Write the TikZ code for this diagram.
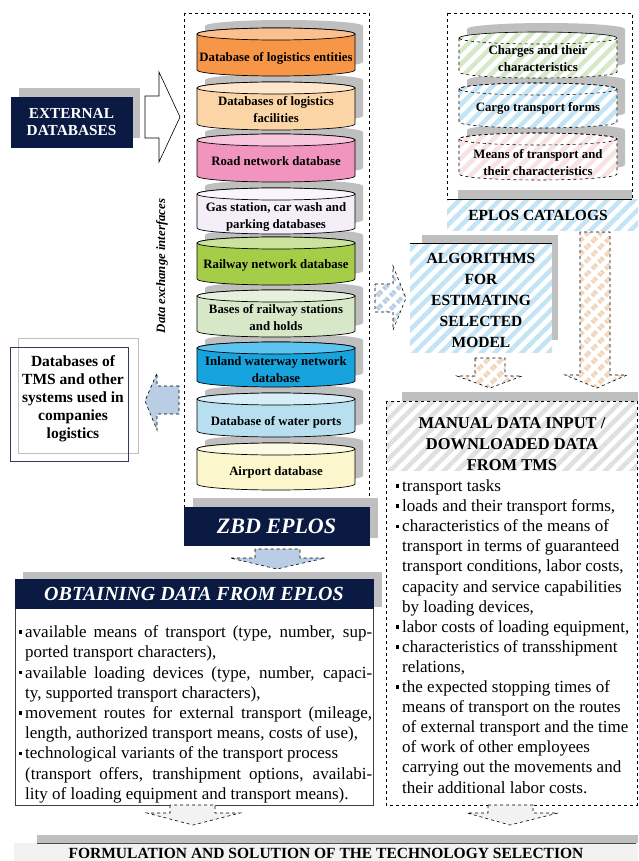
\documentclass[tikz,border=0pt]{standalone}
\usepackage{fontspec}
\setmainfont{Liberation Serif}
\usetikzlibrary{patterns.meta}
\definecolor{navy}{HTML}{0B1A42}
\definecolor{shadowgray}{HTML}{BFBFBF}
\definecolor{hblue}{HTML}{C3E4F5}
\definecolor{hgreen}{HTML}{D5E8C8}
\definecolor{hpink}{HTML}{F8E2E2}
\definecolor{htan}{HTML}{F1D5BD}
\definecolor{hgray}{HTML}{E0E0E0}
\definecolor{arrblue}{HTML}{B9CDE5}
\definecolor{lightbox}{HTML}{F2F2F2}
\definecolor{cAb}{HTML}{F79646}\definecolor{cAt}{HTML}{FAC08F}
\definecolor{cBb}{HTML}{FBD5A6}\definecolor{cBt}{HTML}{FDE6CC}
\definecolor{cCb}{HTML}{F295BE}\definecolor{cCt}{HTML}{F8C6DC}
\definecolor{cDb}{HTML}{F3EEF7}\definecolor{cDt}{HTML}{F9F6FB}
\definecolor{cEb}{HTML}{A6CD48}\definecolor{cEt}{HTML}{CBE39C}
\definecolor{cFb}{HTML}{D7E8C8}\definecolor{cFt}{HTML}{E6F1DD}
\definecolor{cGb}{HTML}{17A3DD}\definecolor{cGt}{HTML}{5CC4EE}
\definecolor{cHb}{HTML}{B7DFF0}\definecolor{cHt}{HTML}{D7EEF8}
\definecolor{cIb}{HTML}{FBF6CC}\definecolor{cIt}{HTML}{FDFAE3}
\newcommand\cylbody[5]{\path[#5] (#1,#3+6) -- (#1,#4-6) arc[start angle=180,end angle=0,x radius={(#2-#1)/2},y radius=6] -- (#2,#3+6) arc[start angle=0,end angle=-180,x radius={(#2-#1)/2},y radius=6] -- cycle;}
\newcommand\cyltop[5]{\path[#5] ({(#1+#2)/2},#3+6) ellipse[x radius={(#2-#1)/2},y radius=6];}
\newcommand\bul{\llap{\raisebox{3.6pt}{\rule{3.6pt}{3.6pt}}\hspace{3pt}}}
\tikzset{
  navybox/.style={fill=navy, draw=navy, text=white, inner sep=0pt, align=center},
  cyltext/.style={font=\fontsize{12.8}{16.5}\selectfont\bfseries, align=center, inner sep=0pt},
  hatch/.style={pattern={Lines[angle=45,distance=9.5pt,line width=4.5pt]}, pattern color=#1},
  blockarrow/.style={draw=black, dashed, line width=0.6pt},
  framebox/.style={draw=black, dashed, line width=0.6pt},
  headtext/.style={font=\fontsize{15.5}{21}\selectfont\bfseries, align=center, inner sep=0pt},
  listtext/.style={align=left, inner sep=0pt, anchor=north west}
}
\begin{document}
\begin{tikzpicture}[x=1pt,y=-1pt]
\useasboundingbox (0,0) rectangle (638,861);

% ---------- external databases
\fill[shadowgray] (19,88) rectangle (140,138);
\node[navybox, minimum width=121, minimum height=50, font=\fontsize{15.3}{17}\selectfont\bfseries] (ext) at (71.5,122) {EXTERNAL\\DATABASES};
\draw[line width=0.6pt, fill=white] (145,96) -- (159,96) -- (159,72) -- (180,117) -- (159,162) -- (159,138) -- (145,138) -- cycle;

% ---------- main frame with database cylinders
\draw[framebox] (184,13) rectangle (369,507);
\begin{scope}[shift={(8,-8)}]
\foreach \yt/\yb in {28/76,82/130,134/182,188/234,237/285,290/337,342/387,393/437,443/490}
  {\cylbody{197}{355}{\yt}{\yb}{fill=shadowgray}}
\end{scope}
\foreach \yt/\yb/\cb/\ct in {28/76/cAb/cAt,82/130/cBb/cBt,134/182/cCb/cCt,188/234/cDb/cDt,237/285/cEb/cEt,290/337/cFb/cFt,342/387/cGb/cGt,393/437/cHb/cHt,443/490/cIb/cIt}
  {\cylbody{197}{355}{\yt}{\yb}{fill=\cb,draw=black,line width=0.7pt}
   \cyltop{197}{355}{\yt}{\yb}{fill=\ct,draw=black,line width=0.7pt}}
\node[cyltext] (db1) at (276,58) {Database of logistics entities};
\node[cyltext] (db2) at (276,109.5) {Databases of logistics\\facilities};
\node[cyltext] (db3) at (276,161) {Road network database};
\node[cyltext] (db4) at (276,217) {Gas station, car wash and\\parking databases};
\node[cyltext] (db5) at (276,265) {Railway network database};
\node[cyltext] (db6) at (276,317.5) {Bases of railway stations\\and holds};
\node[cyltext] (db7) at (276,369.5) {Inland waterway network\\database};
\node[cyltext] (db8) at (276,422) {Database of water ports};
\node[cyltext] (db9) at (276,472) {Airport database};
\node[rotate=90, font=\fontsize{12.8}{15}\selectfont\bfseries\itshape, inner sep=0pt] (dei) at (162,266) {Data exchange interfaces};

% ---------- ZBD EPLOS
\fill[shadowgray] (193,498) rectangle (378,538);
\node[navybox, minimum width=185, minimum height=38, font=\fontsize{22}{26}\selectfont\bfseries\itshape] (zbd) at (276.5,526) {ZBD EPLOS};
\draw[blockarrow, fill=arrblue] (255,549) -- (255,558) -- (230,558) -- (277,569) -- (325,558) -- (300,558) -- (300,549) -- cycle;

% ---------- obtaining data
\fill[shadowgray] (23,572) rectangle (382,607);
\draw[fill=white, draw=black!75, line width=0.8pt] (15,608) rectangle (373,805);
\node[navybox, minimum width=358, minimum height=29, font=\fontsize{20}{24}\selectfont\bfseries\itshape] (obt) at (194,593.5) {OBTAINING DATA FROM EPLOS};
\node[listtext, font=\fontsize{17}{20.2}\selectfont] (obtl) at (25,625.5) {%
\bul\makebox[347pt][s]{available means of transport (type, number, sup-}\\
ported transport characters),\\
\bul\makebox[347pt][s]{available loading devices (type, number, capaci-}\\
ty, supported transport characters),\\
\bul\makebox[347pt][s]{movement routes for external transport (mileage,}\\
length, authorized transport means, costs of use),\\
\bul technological variants of the transport process\\
\makebox[347pt][s]{(transport offers, transhipment options, availabi-}\\
lity of loading equipment and transport means).};
\draw[blockarrow, fill=lightbox] (170,805) -- (170,813) -- (147,813) -- (193,825) -- (240,813) -- (215,813) -- (215,805) -- cycle;

% ---------- formulation
\fill[shadowgray] (37,835) rectangle (638,843);
\fill[lightbox] (14,843) rectangle (638,861);
\draw[black!70, line width=0.6pt] (37,843) -- (636,843);
\node[font=\fontsize{15.5}{18}\selectfont\bfseries, inner sep=0pt] (form) at (326,853) {FORMULATION AND SOLUTION OF THE TECHNOLOGY SELECTION};

% ---------- TMS databases
\draw[blockarrow, fill=arrblue] (179,386) -- (157,386) -- (157,373) -- (145,401) -- (157,430) -- (157,414) -- (179,414) -- cycle;
\draw[shadowgray, line width=0.8pt] (18,338) rectangle (138,453);
\draw[navy!85, line width=0.9pt] (10,347) rectangle (128,461);
\node[font=\fontsize{15.5}{18}\selectfont\bfseries, align=center, inner sep=0pt] (tms) at (73,399) {Databases of\\TMS and other\\systems used in\\companies\\logistics};

% ---------- EPLOS catalogs
\draw[framebox] (447,13) rectangle (632,199);
\begin{scope}[shift={(8,-9)}]
\foreach \yt/\yb in {32/78,83/128,133/180} {\cylbody{459}{617}{\yt}{\yb}{fill=shadowgray}}
\end{scope}
\fill[shadowgray] (458,190) rectangle (632,199);
\foreach \yt/\yb/\hc in {32/78/hgreen,83/128/hblue,133/180/hpink}
  {\cylbody{459}{617}{\yt}{\yb}{fill=white}
   \cylbody{459}{617}{\yt}{\yb}{hatch=\hc}
   \cylbody{459}{617}{\yt}{\yb}{draw=black,dashed,line width=0.6pt}
   \cyltop{459}{617}{\yt}{\yb}{draw=black,dashed,line width=0.6pt}}
\node[cyltext] (cat1) at (538,58.5) {Charges and their\\characteristics};
\node[cyltext] (cat2) at (538,108) {Cargo transport forms};
\node[cyltext] (cat3) at (538,162.5) {Means of transport and\\their characteristics};
\path[hatch=hblue] (447,199) rectangle (638,230);
\draw[line width=0.7pt] (447,199) -- (632,199);
\node[headtext] (catl) at (538,215) {EPLOS CATALOGS};

% ---------- algorithms
\draw[blockarrow, hatch=arrblue] (375,284) -- (393,284) -- (393,266) -- (406,298) -- (393,330) -- (393,312) -- (375,312) -- cycle;
\fill[shadowgray] (422,235) rectangle (558,340);
\fill[white] (410,243) rectangle (552,352);
\path[hatch=hblue] (410,243) rectangle (552,352);
\draw[line width=0.7pt] (410,243) -- (552,243);
\node[headtext] (alg) at (481,300) {ALGORITHMS\\FOR\\ESTIMATING\\SELECTED\\MODEL};

% ---------- tan arrows
\draw[blockarrow, hatch=htan] (475,358) -- (475,376) -- (457,376) -- (490,388) -- (522,376) -- (505,376) -- (505,358) -- cycle;
\draw[blockarrow, hatch=htan] (580,232) -- (580,375) -- (565,375) -- (597,388) -- (627,375) -- (610,375) -- (610,232) -- cycle;

% ---------- manual data input
\fill[shadowgray] (402,392) rectangle (638,401);
\fill[white] (386,401) rectangle (637,805);
\path[hatch=hgray] (386,401) rectangle (637,470);
\draw[framebox] (386,401) rectangle (637,805);
\node[font=\fontsize{16.5}{21}\selectfont\bfseries, align=center, inner sep=0pt] (man) at (512,444) {MANUAL DATA INPUT /\\DOWNLOADED DATA\\FROM TMS};
\node[listtext, font=\fontsize{17}{20.1}\selectfont] (manl) at (402,479.5) {%
\bul transport tasks\\
\bul loads and their transport forms,\\
\bul characteristics of the means of\\
transport in terms of guaranteed\\
transport conditions, labor costs,\\
capacity and service capabilities\\
by loading devices,\\
\bul labor costs of loading equipment,\\
\bul characteristics of transshipment\\
relations,\\
\bul the expected stopping times of\\
means of transport on the routes\\
of external transport and the time\\
of work of other employees\\
carrying out the movements and\\
their additional labor costs.};
\draw[blockarrow, fill=lightbox] (488,805) -- (488,813) -- (467,813) -- (510,825) -- (558,813) -- (533,813) -- (533,805) -- cycle;
\end{tikzpicture}
\end{document}
